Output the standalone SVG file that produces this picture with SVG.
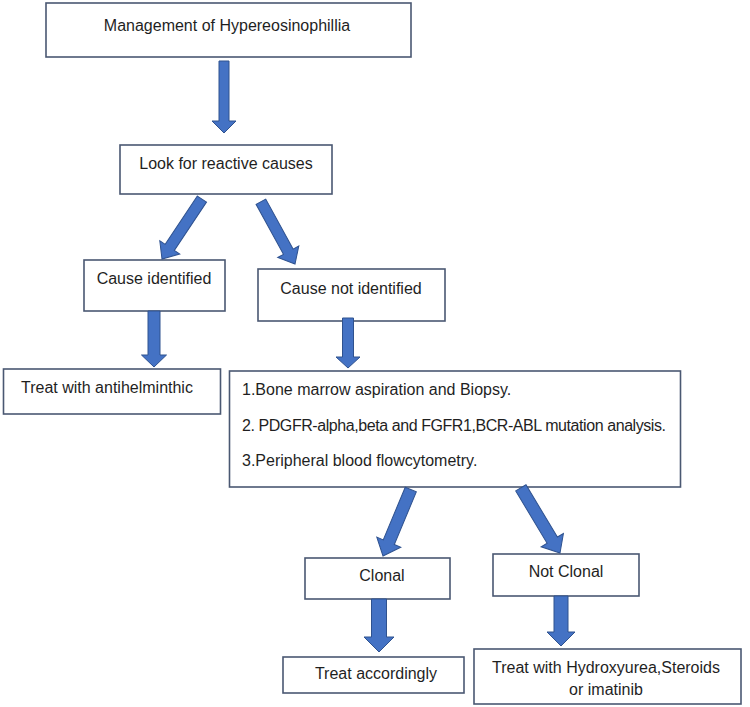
<svg xmlns="http://www.w3.org/2000/svg" width="750" height="707" viewBox="0 0 750 707">
<style>
.box{fill:#fff;stroke:#4a5872;stroke-width:1.6}
.t{font-family:"Liberation Sans",Arial,sans-serif;font-size:16px;fill:#1f1f1f}
.c{text-anchor:middle}
.arr{fill:#4472c4;stroke:#2f528f;stroke-width:1;stroke-linejoin:miter}
</style>
<rect width="750" height="707" fill="#fff"/>
<g id="n_title"><rect class="box" x="46" y="3" width="365" height="54"/><text class="t c" x="227" y="31">Management of Hypereosinophillia</text></g>
<g id="n_reactive"><rect class="box" x="120" y="145" width="212" height="49"/><text class="t c" x="226" y="169">Look for reactive causes</text></g>
<g id="n_ci"><rect class="box" x="84" y="260" width="141" height="51"/><text class="t c" x="154" y="284">Cause identified</text></g>
<g id="n_cni"><rect class="box" x="258" y="269" width="187" height="52"/><text class="t c" x="351" y="294">Cause not identified</text></g>
<g id="n_anti"><rect class="box" x="3.5" y="369" width="217" height="45"/><text class="t" x="21" y="393">Treat with antihelminthic</text></g>
<g id="n_tests"><rect class="box" x="229.5" y="371" width="451" height="116"/>
<text class="t" x="242" y="395">1.Bone marrow aspiration and Biopsy.</text>
<text class="t" x="242" y="431" textLength="424" lengthAdjust="spacing">2. PDGFR-alpha,beta and FGFR1,BCR-ABL mutation analysis.</text>
<text class="t" x="242" y="466">3.Peripheral blood flowcytometry.</text></g>
<g id="n_clonal"><rect class="box" x="305" y="558" width="145" height="41"/><text class="t c" x="382" y="581">Clonal</text></g>
<g id="n_notclonal"><rect class="box" x="493" y="554" width="146" height="42"/><text class="t c" x="566" y="577">Not Clonal</text></g>
<g id="n_treat"><rect class="box" x="283" y="657" width="181" height="36"/><text class="t c" x="376" y="679">Treat accordingly</text></g>
<g id="n_hydroxy"><rect class="box" x="474" y="649" width="267" height="55"/><text class="t c" x="606" y="673">Treat with Hydroxyurea,Steroids</text><text class="t c" x="606" y="695">or imatinib</text></g>
<g id="connectors">
<polygon class="arr" transform="translate(224,133)" points="-5,-72 5,-72 5,-12 12,-12 0,0 -12,-12 -5,-12"/>
<polygon class="arr" transform="translate(162,259) rotate(33.7)" points="-5.5,-72 5.5,-72 5.5,-14 12,-14 0,0 -12,-14 -5.5,-14"/>
<polygon class="arr" transform="translate(295,264) rotate(-28.7)" points="-5.5,-71 5.5,-71 5.5,-14 12,-14 0,0 -12,-14 -5.5,-14"/>
<polygon class="arr" transform="translate(154,367)" points="-6,-56 6,-56 6,-12 12.5,-12 0,0 -12.5,-12 -6,-12"/>
<polygon class="arr" transform="translate(348,368)" points="-5.5,-50 5.5,-50 5.5,-11 12,-11 0,0 -12,-11 -5.5,-11"/>
<polygon class="arr" transform="translate(383,556) rotate(22.7)" points="-6,-72 6,-72 6,-15 13,-15 0,0 -13,-15 -6,-15"/>
<polygon class="arr" transform="translate(560,553) rotate(-31)" points="-6,-76 6,-76 6,-15 13,-15 0,0 -13,-15 -6,-15"/>
<polygon class="arr" transform="translate(379,652)" points="-7.5,-53 7.5,-53 7.5,-15 15,-15 0,0 -15,-15 -7.5,-15"/>
<polygon class="arr" transform="translate(561,646)" points="-7,-50 7,-50 7,-14 14,-14 0,0 -14,-14 -7,-14"/>
</g>
</svg>
